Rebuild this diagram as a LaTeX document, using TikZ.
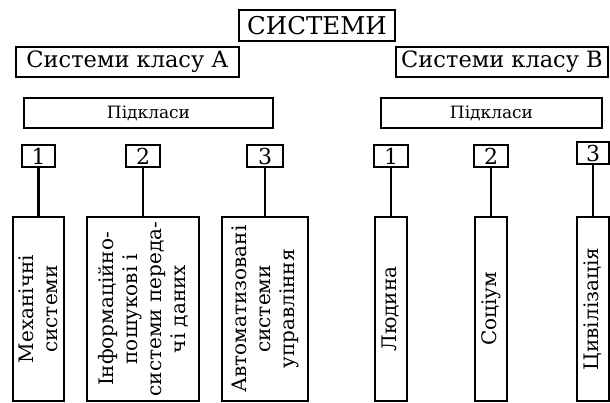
\documentclass[tikz,border=0pt]{standalone}
\usepackage{fontspec}
\setmainfont{DejaVu Serif}

\begin{document}
\begin{tikzpicture}[x=1pt,y=-1pt,
  box/.style={draw,line width=2.3pt,inner sep=0pt,minimum height=30pt},
  numbox/.style={draw,line width=2.3pt,inner sep=0pt,minimum height=22pt,font=\fontsize{22}{22}\selectfont},
  tallbox/.style={draw,line width=2.3pt,inner sep=0pt,minimum height=184pt},
  vtext/.style={rotate=90,align=center,inner sep=0pt,font=\fontsize{20}{24}\selectfont},
  link/.style={line width=2.3pt}]
\useasboundingbox(0,0)rectangle(610,403);
% top level
\node[box,minimum width=156pt,minimum height=31pt,font=\fontsize{24.5}{24.5}\selectfont](sys)at(317,25.5){СИСТЕМИ};
\node[box,minimum width=223pt,font=\fontsize{22.5}{22.5}\selectfont](clsA)at(127.5,62){Системи класу А};
\node[box,minimum width=212pt,font=\fontsize{22.5}{22.5}\selectfont](clsB)at(502,62){Системи класу В};
\node[box,minimum width=249pt,font=\fontsize{17}{17}\selectfont](subA)at(148.5,113){Підкласи};
\node[box,minimum width=221pt,font=\fontsize{17}{17}\selectfont](subB)at(491.5,113){Підкласи};
% class A
\node[numbox,minimum width=33pt](nA1)at(38.5,156){1};
\node[numbox,minimum width=34pt](nA2)at(143,156){2};
\node[numbox,minimum width=36pt](nA3)at(265,156){3};
\node[tallbox,minimum width=51pt](tA1)at(38.5,309){};
\node[tallbox,minimum width=112pt](tA2)at(143,309){};
\node[tallbox,minimum width=86pt](tA3)at(265,309){};
\node[vtext](xA1)at(tA1){Механічні\\системи};
\node[vtext](xA2)at(tA2){Інформаційно-\\пошукові і\\системи переда-\\чі даних};
\node[vtext](xA3)at(tA3){Автоматизовані\\системи\\управління};
% class B
\node[numbox,minimum width=34pt](nB1)at(391,156){1};
\node[numbox,minimum width=34pt](nB2)at(491,156){2};
\node[numbox,minimum width=32pt](nB3)at(593,153){3};
\node[tallbox,minimum width=32pt](tB1)at(391,309){};
\node[tallbox,minimum width=32pt](tB2)at(491,309){};
\node[tallbox,minimum width=32pt](tB3)at(593,309){};
\node[vtext](xB1)at(tB1){Людина};
\node[vtext](xB2)at(tB2){Соціум};
\node[vtext](xB3)at(tB3){Цивілізація};
% links
\draw[link](nA1)--(tA1);
\draw[link](nA2)--(tA2);
\draw[link](nA3)--(tA3);
\draw[link](nB1)--(tB1);
\draw[link](nB2)--(tB2);
\draw[link](nB3)--(tB3);
\end{tikzpicture}
\end{document}
